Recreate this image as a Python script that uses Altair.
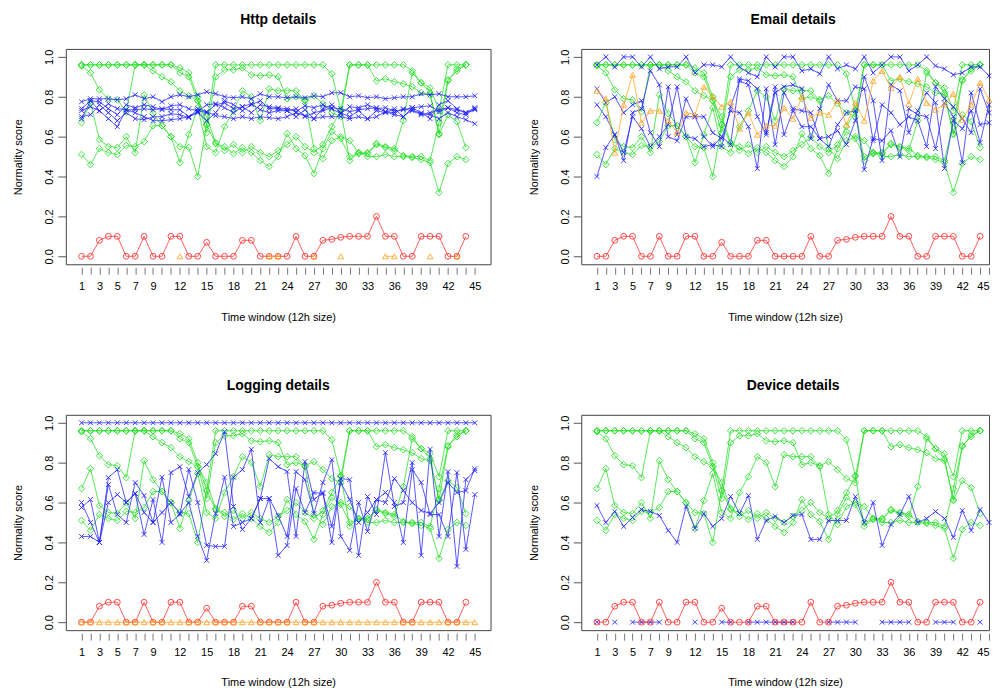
import altair as alt
import pandas as pd

# ---------------- data ----------------
RED = [0, 0, 0.08, 0.1, 0.1, 0, 0, 0.1, 0, 0,
       0.1, 0.1, 0, 0, 0.07, 0, 0, 0, 0.08, 0.08,
       0, 0, 0, 0, 0.1, 0, 0, 0.08, 0.085, 0.095,
       0.1, 0.1, 0.1, 0.2, 0.1, 0.1, 0, 0, 0.1, 0.1,
       0.1, 0, 0, 0.1]

G1 = [0.96, 0.96, 0.96, 0.96, 0.96, 0.96, 0.96, 0.96, 0.96, 0.96,
      0.96, 0.945, 0.92, 0.80, 0.66, 0.96, 0.96, 0.96, 0.96, 0.96,
      0.96, 0.96, 0.96, 0.96, 0.96, 0.96, 0.96, 0.96, 0.915, 0.735,
      0.48, 0.52, 0.515, 0.56, 0.545, 0.53, 0.68, 0.92, 0.87, 0.82,
      0.61, 0.71, 0.675, 0.545]
G2 = [0.955, 0.92, 0.835, 0.79, 0.785, 0.725, 0.96, 0.96, 0.96, 0.96,
      0.96, 0.92, 0.90, 0.78, 0.62, 0.90, 0.935, 0.935, 0.945, 0.91,
      0.905, 0.91, 0.90, 0.79, 0.80, 0.785, 0.805, 0.765, 0.72, 0.70,
      0.96, 0.96, 0.96, 0.96, 0.96, 0.96, 0.96, 0.93, 0.87, 0.845,
      0.73, 0.96, 0.96, 0.96]
G3 = [0.67, 0.77, 0.585, 0.55, 0.545, 0.60, 0.52, 0.81, 0.715, 0.655,
      0.60, 0.47, 0.61, 0.745, 0.55, 0.52, 0.65, 0.73, 0.83, 0.80,
      0.68, 0.84, 0.83, 0.83, 0.83, 0.78, 0.54, 0.49, 0.58, 0.60,
      0.58, 0.52, 0.50, 0.50, 0.51, 0.50, 0.50, 0.495, 0.485, 0.47,
      0.32, 0.465, 0.50, 0.485]
G4 = [0.51, 0.46, 0.54, 0.52, 0.51, 0.555, 0.55, 0.575, 0.655, 0.655,
      0.60, 0.55, 0.545, 0.40, 0.66, 0.565, 0.55, 0.515, 0.545, 0.52,
      0.48, 0.45, 0.50, 0.615, 0.54, 0.505, 0.415, 0.54, 0.625, 0.59,
      0.50, 0.515, 0.52, 0.565, 0.55, 0.54, 0.505, 0.50, 0.50, 0.48,
      0.67, 0.885, 0.93, 0.96]
G5 = [0.96, 0.96, 0.96, 0.96, 0.96, 0.96, 0.96, 0.96, 0.93, 0.90,
      0.875, 0.83, 0.805, 0.78, 0.70, 0.57, 0.53, 0.56, 0.52, 0.55,
      0.52, 0.50, 0.53, 0.56, 0.60, 0.55, 0.52, 0.56, 0.65, 0.73,
      0.96, 0.96, 0.96, 0.88, 0.89, 0.875, 0.865, 0.85, 0.82, 0.81,
      0.615, 0.88, 0.94, 0.96]
GREEN = {"g1": G1, "g2": G2, "g3": G3, "g4": G4, "g5": G5}

# Http details
HB1 = [0.775, 0.79, 0.79, 0.79, 0.785, 0.79, 0.81, 0.79, 0.80, 0.775,
       0.80, 0.81, 0.80, 0.81, 0.825, 0.815, 0.80, 0.795, 0.80, 0.79,
       0.815, 0.80, 0.80, 0.795, 0.80, 0.795, 0.805, 0.80, 0.82, 0.82,
       0.80, 0.805, 0.795, 0.80, 0.79, 0.795, 0.80, 0.80, 0.815, 0.81,
       0.815, 0.80, 0.80, 0.80, 0.805]
HB2 = [0.74, 0.78, 0.775, 0.74, 0.71, 0.76, 0.745, 0.76, 0.75, 0.735,
       0.755, 0.76, 0.74, 0.73, 0.72, 0.76, 0.77, 0.74, 0.75, 0.72,
       0.76, 0.75, 0.745, 0.74, 0.725, 0.755, 0.745, 0.76, 0.74, 0.715,
       0.75, 0.745, 0.76, 0.74, 0.745, 0.73, 0.735, 0.745, 0.75, 0.755,
       0.725, 0.745, 0.735, 0.72, 0.745]
HB3 = [0.70, 0.71, 0.76, 0.72, 0.68, 0.72, 0.69, 0.685, 0.70, 0.70,
       0.715, 0.71, 0.695, 0.74, 0.725, 0.705, 0.70, 0.69, 0.70, 0.69,
       0.70, 0.695, 0.69, 0.70, 0.72, 0.705, 0.69, 0.70, 0.70, 0.70,
       0.69, 0.70, 0.69, 0.70, 0.725, 0.71, 0.70, 0.735, 0.715, 0.71,
       0.69, 0.72, 0.70, 0.685, 0.665]
HB4 = [0.73, 0.75, 0.73, 0.765, 0.74, 0.735, 0.72, 0.70, 0.68, 0.68,
       0.685, 0.69, 0.70, 0.725, 0.76, 0.765, 0.745, 0.72, 0.75, 0.765,
       0.735, 0.72, 0.73, 0.73, 0.74, 0.70, 0.72, 0.73, 0.745, 0.74,
       0.725, 0.735, 0.74, 0.745, 0.725, 0.72, 0.74, 0.73, 0.71, 0.72,
       0.735, 0.745, 0.72, 0.71, 0.74]
HB5 = [0.69, 0.78, 0.73, 0.69, 0.65, 0.735, 0.735, 0.74, 0.735, 0.74,
       0.735, 0.735, 0.70, 0.72, 0.68, 0.72, 0.78, 0.76, 0.73, 0.76,
       0.78, 0.74, 0.74, 0.73, 0.70, 0.735, 0.69, 0.74, 0.76, 0.72,
       0.70, 0.73, 0.69, 0.73, 0.72, 0.74, 0.70, 0.745, 0.72, 0.69,
       0.76, 0.78, 0.74, 0.72, 0.735]
HTTP_ORANGE = [None, None, None, None, None, None, None, None, None, None,
               None, 0, None, None, None, None, None, None, None, None,
               None, 0, 0, None, None, None, 0, None, None, 0,
               None, None, None, None, 0, 0, None, None, None, 0,
               None, None, 0, None, None]

# Email details
EB1 = [0.96, 1.0, 0.95, 1.0, 1.0, 0.95, 1.0, 0.94, 0.95, 0.95,
       1.0, 0.92, 0.96, 0.96, 0.95, 1.0, 0.95, 0.92, 0.90, 1.0,
       0.95, 1.0, 1.0, 0.93, 0.94, 0.915, 1.0, 0.94, 0.96, 0.94,
       1.0, 0.92, 0.96, 1.0, 1.0, 0.93, 0.96, 1.0, 0.955, 0.94,
       0.91, 0.92, 0.95, 0.95, 0.905]
EB2 = [0.76, 0.70, 0.61, 0.48, 0.72, 0.74, 0.93, 0.86, 0.60, 0.58,
       0.70, 0.70, 0.60, 0.55, 0.60, 0.56, 0.89, 0.88, 0.84, 0.62,
       0.82, 0.85, 0.86, 0.84, 0.59, 0.74, 0.86, 0.78, 0.78, 0.85,
       0.84, 0.58, 0.76, 0.72, 0.66, 0.70, 0.68, 0.55, 0.85, 0.79,
       0.75, 0.69, 0.62, 0.84, 0.72]
EB3 = [0.84, 0.77, 0.80, 0.72, 0.76, 0.78, 0.62, 0.55, 0.85, 0.61,
       0.79, 0.70, 0.70, 0.62, 0.59, 0.73, 0.72, 0.65, 0.44, 0.84,
       0.56, 0.82, 0.74, 0.73, 0.72, 0.59, 0.60, 0.63, 0.56, 0.68,
       0.90, 0.78, 0.48, 0.86, 0.83, 0.62, 0.73, 0.82, 0.77, 0.44,
       0.68, 0.64, 0.73, 0.57, 0.76]
EB4 = [0.40, 0.545, 0.61, 0.52, 0.70, 0.64, 0.55, 0.60, 0.66, 0.85,
       0.60, 0.59, 0.55, 0.56, 0.55, 0.75, 0.88, 0.86, 0.70, 0.61,
       0.85, 0.61, 0.73, 0.65, 0.65, 0.59, 0.55, 0.66, 0.72, 0.73,
       0.435, 0.59, 0.58, 0.63, 0.50, 0.74, 0.71, 0.70, 0.54, 0.77,
       0.70, 0.47, 0.82, 0.66, 0.67]
EMAIL_ORANGE = [0.83, 0.79, 0.52, 0.76, 0.91, 0.67, 0.73, 0.73, 0.68, 0.62,
                0.72, 0.71, 0.85, 0.80, 0.75, 0.775, 0.64, 0.72, 0.61, 0.655,
                0.655, 0.745, 0.69, 0.80, 0.695, 0.72, 0.71, 0.78, 0.66, 0.77,
                0.68, 0.88, 0.93, 0.845, 0.90, 0.765, 0.89, 0.77, 0.735, 0.76,
                0.815, 0.685, 0.76, 0.87, 0.785]

# Logging details
LB_TOP = [1.0, 1.0, 1.0, 1.0, 1.0, 1.0, 1.0, 1.0, 1.0, 1.0,
          1.0, 1.0, 1.0, 1.0, 1.0, 1.0, 1.0, 1.0, 1.0, 1.0,
          1.0, 1.0, 1.0, 1.0, 1.0, 1.0, 1.0, 1.0, 1.0, 1.0,
          1.0, 1.0, 1.0, 1.0, 1.0, 1.0, 1.0, 1.0, 1.0, 1.0,
          1.0, 1.0, 1.0, 1.0, 1.0]
LB1 = [0.575, 0.615, 0.40, 0.725, 0.765, 0.60, 0.645, 0.44, 0.615, 0.40,
       0.75, 0.78, 0.63, 0.75, 0.79, 0.845, 0.955, 0.58, 0.465, 0.52,
       0.62, 0.82, 0.78, 0.755, 0.43, 0.805, 0.615, 0.65, 0.40, 0.72,
       0.715, 0.335, 0.63, 0.54, 0.85, 0.58, 0.60, 0.80, 0.335, 0.867,
       0.43, 0.755, 0.28, 0.715, 0.76]
LB2 = [0.60, 0.50, 0.40, 0.69, 0.54, 0.50, 0.70, 0.635, 0.50, 0.727,
       0.50, 0.54, 0.765, 0.60, 0.385, 0.38, 0.38, 0.727, 0.765, 0.867,
       0.50, 0.62, 0.535, 0.43, 0.755, 0.715, 0.545, 0.70, 0.815, 0.43,
       0.36, 0.60, 0.455, 0.615, 0.65, 0.60, 0.40, 0.765, 0.70, 0.54,
       0.54, 0.43, 0.75, 0.365, 0.64]
LB3 = [0.43, 0.43, 0.40, 0.60, 0.64, 0.60, 0.645, 0.55, 0.50, 0.55,
       0.60, 0.545, 0.60, 0.43, 0.31, 0.545, 0.727, 0.48, 0.50, 0.52,
       0.62, 0.62, 0.335, 0.385, 0.67, 0.55, 0.65, 0.645, 0.48, 0.70,
       0.615, 0.50, 0.55, 0.615, 0.60, 0.72, 0.66, 0.60, 0.56, 0.545,
       0.60, 0.70, 0.65, 0.66, 0.77]
LOG_ORANGE = [0, 0, 0, 0, 0, 0, 0, 0, 0, 0,
              0, 0, 0, 0, 0, 0, 0, 0, 0, 0,
              0, 0, 0, 0, 0, 0, 0, 0, 0, 0,
              0, 0, 0, 0, 0, 0, 0, 0, 0, 0,
              0, 0, 0, 0, 0]

# Device details
DB1 = [0.585, 0.50, 0.555, 0.48, 0.525, 0.565, 0.555, 0.535, 0.46, 0.40,
       0.58, 0.47, 0.545, 0.48, 0.52, 0.63, 0.545, 0.635, 0.415, 0.51,
       0.53, 0.50, 0.535, 0.54, 0.415, 0.415, 0.51, 0.51, 0.51, 0.63,
       0.50, 0.60, 0.385, 0.49, 0.54, 0.63, 0.50, 0.52, 0.555, 0.52,
       0.425, 0.56, 0.46, 0.565, 0.50]
DB0 = [0, None, 0, None, 0, 0, 0, 0, None, None,
       None, 0, None, None, 0, 0, None, 0, 0, 0,
       0, 0, 0, None, None, None, 0, 0, 0, 0,
       None, None, 0, 0, 0, 0, None, None, 0, 0,
       0, None, None, 0, None]

X_TICKS = list(range(1, 46))
X_LABELS = [1, 3, 5, 7, 9, 12, 15, 18, 21, 24, 27, 30, 33, 36, 39, 42, 45]
Y_TICKS = [0.0, 0.2, 0.4, 0.6, 0.8, 1.0]

PANELS = [
    ("Http details", {"blue": {"hb1": HB1, "hb2": HB2, "hb3": HB3, "hb4": HB4, "hb5": HB5},
                      "orange": {"ho": HTTP_ORANGE}}),
    ("Email details", {"blue": {"eb1": EB1, "eb2": EB2, "eb3": EB3, "eb4": EB4},
                       "orange": {"eo": EMAIL_ORANGE}}),
    ("Logging details", {"blue": {"lb0": LB_TOP, "lb1": LB1, "lb2": LB2, "lb3": LB3},
                         "orange": {"lo": LOG_ORANGE}}),
    ("Device details", {"blue": {"db1": DB1, "db0": DB0}}),
]

# ---------------- styling ----------------
FONT = "Liberation Sans"
X_PATH = "M-1,-1L1,1M-1,1L1,-1"
STYLE = {
    "green": dict(color="#22e022", shape="diamond", size=44),
    "blue": dict(color="#2020ff", shape=X_PATH, size=24),
    "red": dict(color="#ff2a2a", shape="circle", size=34),
    "orange": dict(color="#ffa322", shape="triangle-up", size=34),
}
ORDER = ["green", "blue", "red", "orange"]

PLOT_H = 216
LEFT_W = 426
RIGHT_W = 409
X_MIN = -0.76
LEFT_XMAX = 46.76
RIGHT_XMAX = 45.0


def rows(kind, name, values):
    out = []
    seg = 0
    prev = None
    for i, v in enumerate(values):
        if v is None:
            prev = None
            continue
        if prev is None:
            seg += 1
        out.append(dict(kind=kind, series=name, seg=f"{name}-{seg}", x=i + 1, y=v))
        prev = v
    return out


def panel(title, extra, width, x_max, dx, flush):
    recs = []
    for name, vals in GREEN.items():
        recs += rows("green", name, vals)
    for kind in ["blue", "orange"]:
        for name, vals in extra.get(kind, {}).items():
            recs += rows(kind, name, vals)
    recs += rows("red", "red", RED)
    df = pd.DataFrame(recs)

    xaxis = alt.Axis(values=X_TICKS, title="Time window (12h size)", grid=False, domain=False,
                     tickSize=7, tickColor="#777", offset=3, labelPadding=6,
                     labelExpr="indexof(" + str(X_LABELS) + ", datum.value) >= 0 ? datum.label : ''",
                     labelFont=FONT, labelFontSize=11, labelColor="#000", labelFlush=flush,
                     titleFont=FONT, titleFontSize=11, titleFontWeight="normal", titleColor="#000",
                     titlePadding=20, labelOverlap=False)
    yaxis = alt.Axis(values=Y_TICKS, format=".1f", title="Normality score", grid=False, domain=False,
                     tickSize=8, tickColor="#555", labelAngle=270, labelAlign="center",
                     labelBaseline="bottom", labelPadding=3, labelFont=FONT, labelFontSize=11,
                     labelColor="#000", titleFont=FONT, titleFontSize=11, titleFontWeight="normal",
                     titleColor="#000", titlePadding=20)
    base = alt.Chart(df).encode(
        x=alt.X("x:Q", scale=alt.Scale(domain=[X_MIN, x_max], nice=False, zero=False), axis=xaxis),
        y=alt.Y("y:Q", scale=alt.Scale(domain=[-0.04, 1.04], nice=False, zero=False), axis=yaxis),
        detail="seg:N",
    )
    layers = []
    for kind in ORDER:
        if kind not in set(df["kind"]):
            continue
        st = STYLE[kind]
        sub = base.transform_filter(alt.datum.kind == kind)
        layers.append(sub.mark_line(color=st["color"], strokeWidth=1, opacity=0.75))
        layers.append(sub.mark_point(shape=st["shape"], color=st["color"], size=st["size"],
                                     filled=False, strokeWidth=1, opacity=0.85))
    return alt.layer(*layers).properties(
        width=width, height=PLOT_H,
        title=alt.TitleParams(title, font=FONT, fontSize=14, fontWeight="bold", color="#000",
                              anchor="middle", offset=22, dx=dx),
    )


charts = []
for idx, (title, extra) in enumerate(PANELS):
    right = idx % 2 == 1
    if right:
        charts.append(panel(title, extra, RIGHT_W, RIGHT_XMAX, 8, True))
    else:
        charts.append(panel(title, extra, LEFT_W, LEFT_XMAX, 0, False))

chart = alt.vconcat(
    alt.hconcat(charts[0], charts[1], spacing=36),
    alt.hconcat(charts[2], charts[3], spacing=36),
    spacing=55,
).properties(
    padding={"left": 4, "top": 3, "right": 0, "bottom": 0},
    background="white",
).configure_view(stroke="#444", strokeWidth=1)

chart.save("out.html", embed_options={"renderer": "svg", "actions": False})
